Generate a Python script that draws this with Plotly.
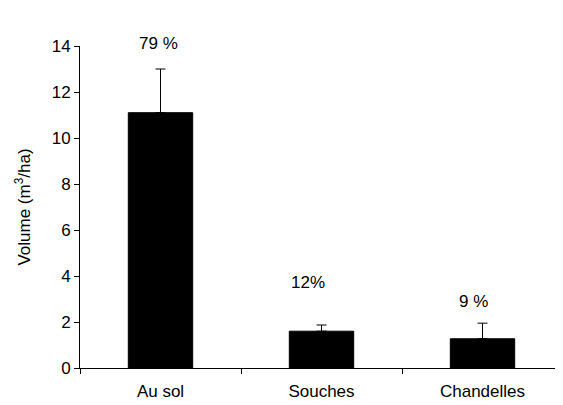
import plotly.graph_objects as go

categories = ["Au sol", "Souches", "Chandelles"]
volumes = [11.1, 1.6, 1.27]
errors_up = [1.9, 0.27, 0.68]
pct_labels = ["79 %", "12%", "9 %"]
pct_label_y = [14.13, 3.7, 2.87]
y_ticks = [0, 2, 4, 6, 8, 10, 12, 14]

Y_MAX = 14
FS = 17

fig = go.Figure()
fig.add_trace(go.Bar(
    x=categories, y=volumes,
    marker=dict(color="black", line=dict(color="black", width=1)),
    width=0.4,
    error_y=dict(type="data", array=errors_up, arrayminus=[0]*3, symmetric=False,
                 color="black", thickness=1, width=5),
))

xshifts = [-2, -14, -9]
for c, t, y, xs in zip(categories, pct_labels, pct_label_y, xshifts):
    fig.add_annotation(x=c, y=y / Y_MAX, yref="paper", yanchor="middle",
                       text=t, showarrow=False,
                       xshift=xs, font=dict(size=FS, color="black"))

# page body has an 8px margin, so the figure is shrunk to fit the window
fig.update_layout(
    width=555, height=397,
    margin=dict(l=72, r=0, t=38, b=37),
    paper_bgcolor="white", plot_bgcolor="white",
    font=dict(family="Liberation Sans, Arial", size=FS, color="black"),
    showlegend=False,
)
fig.update_xaxes(
    showline=True, linecolor="black", linewidth=1,
    ticks="outside", tickson="boundaries", ticklen=5, tickcolor="black",
    showgrid=False, zeroline=False, tickfont=dict(size=FS),
    ticklabelstandoff=8,
)
fig.update_yaxes(
    range=[0, Y_MAX], tickvals=y_ticks,
    showline=True, linecolor="black", linewidth=1,
    ticks="outside", ticklen=5, tickcolor="black",
    showgrid=False, zeroline=False, tickfont=dict(size=FS),
    title=dict(text="Volume (m<sup>3</sup>/ha)", font=dict(size=FS), standoff=16),
)

fig.write_html("out.html")
